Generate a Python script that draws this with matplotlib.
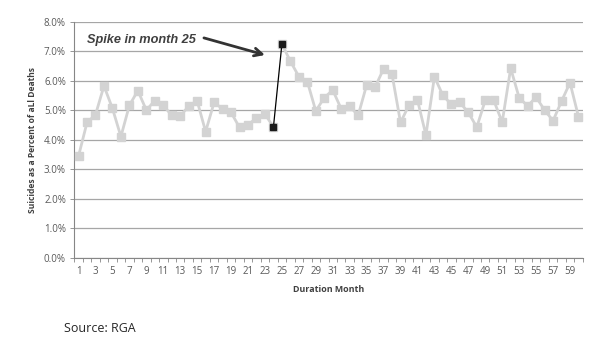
import matplotlib
matplotlib.use("Agg")
import matplotlib.pyplot as plt
import numpy as np

months = list(range(1, 61))
pct = [3.45, 4.59, 4.85, 5.83, 5.07, 4.11, 5.17, 5.67, 5.01, 5.33,
       5.17, 4.83, 4.80, 5.15, 5.32, 4.28, 5.27, 5.05, 4.93, 4.42,
       4.52, 4.73, 4.88, 4.43, 7.25, 6.67, 6.15, 5.98, 4.98, 5.43,
       5.69, 5.05, 5.14, 4.83, 5.86, 5.79, 6.41, 6.22, 4.59, 5.18,
       5.35, 4.16, 6.14, 5.51, 5.20, 5.27, 4.93, 4.43, 5.34, 5.34,
       4.60, 6.43, 5.43, 5.15, 5.45, 5.01, 4.65, 5.31, 5.94, 4.79]
spike_months = [24, 25]
yticks = [0, 1, 2, 3, 4, 5, 6, 7, 8]
xtick_labels = [str(m) for m in range(1, 60, 2)]

plt.rcParams['font.family'] = ['Open Sans', 'DejaVu Sans']

fig = plt.figure(figsize=(6.05, 3.48), dpi=100)
ax = fig.add_axes([74.3/605, 1-257.7/348, (582.7-74.3)/605, (257.7-22)/348])

gray = '#d3d3d3'
m = np.array(months); p = np.array(pct)
ax.plot(m[:24], p[:24], color=gray, lw=2.0, marker='s', ms=5.2, mfc=gray, mec=gray, zorder=3)
ax.plot(m[24:], p[24:], color=gray, lw=2.0, marker='s', ms=5.2, mfc=gray, mec=gray, zorder=3)
sp = [pct[i-1] for i in spike_months]
ax.plot(spike_months, sp, color='black', lw=0.9, marker='s', ms=5.0, mfc='#1a1a1a', mec='#1a1a1a', zorder=4)

ax.set_xlim(0.5, 60.5)
ax.set_ylim(0, 8)
ax.set_yticks(yticks)
ax.set_yticklabels([f"{v:.1f}%" for v in yticks])
ax.yaxis.grid(True, color='#a6a6a6', lw=0.9)
ax.set_axisbelow(True)

ax.set_xticks(list(range(1, 60, 2)))
ax.set_xticklabels(xtick_labels)
ax.set_xticks(np.arange(0.5, 61, 1), minor=True)
ax.tick_params(axis='x', which='major', length=0, pad=6, labelsize=7, labelcolor='#595959')
ax.tick_params(axis='x', which='minor', length=3, width=0.6, color='#868686', direction='out')
ax.tick_params(axis='y', length=3, width=0.6, color='#868686', labelsize=7, labelcolor='#595959', pad=3)

for s in ['top', 'right']:
    ax.spines[s].set_visible(False)
for s in ['left', 'bottom']:
    ax.spines[s].set_color('#868686')
    ax.spines[s].set_linewidth(0.8)

ax.set_xlabel('Duration Month', fontsize=6.4, fontweight='bold', color='#404040', labelpad=6)
ax.set_ylabel('Suicides as a Percent of aLl Deaths', fontsize=6.1, fontweight='bold', color='#404040', labelpad=5)

ax.text(2.0, 7.39, 'Spike in month 25', fontsize=9.2, fontweight='bold', style='italic', color='#404040',
        family=['Liberation Sans', 'DejaVu Sans'], va='center', ha='left')
ax.annotate('', xy=(23.0, 6.88), xytext=(15.8, 7.46), textcoords='data',
            arrowprops=dict(arrowstyle='->', color='#333333', lw=2.0, shrinkA=0, shrinkB=0,
                            mutation_scale=14))

fig.text(64/605, 1-328/348, 'Source: RGA', fontsize=9, color='#262626', va='center', ha='left')

fig.savefig('out.png', dpi=100)
